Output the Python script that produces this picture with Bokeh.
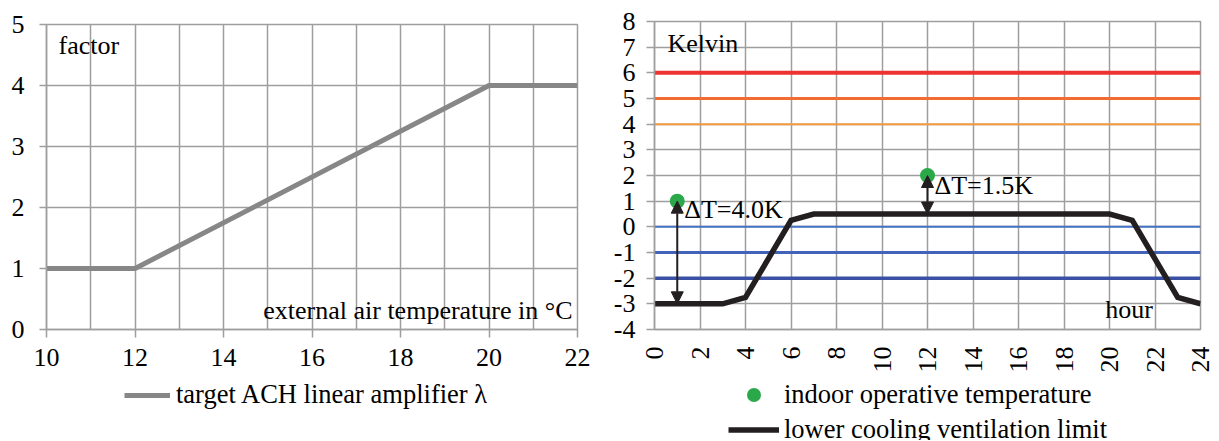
import math
from bokeh.plotting import figure
from bokeh.layouts import row, column
from bokeh.models import (Range1d, FixedTicker, Label, Legend, LegendItem, Arrow,
                          NormalHead, ColumnDataSource)
from bokeh.embed import file_html
from bokeh.resources import INLINE

# ---------------- data ----------------
# left chart: target ACH linear amplifier
amp_temp = [10, 12, 20, 22]
amp_factor = [1, 1, 4, 4]
left_xticks = [10, 12, 14, 16, 18, 20, 22]
left_yticks = [0, 1, 2, 3, 4, 5]

# right chart: hourly limits
hours = [0, 3, 4, 6, 7, 20, 21, 23, 24]
lower_limit = [-3, -3, -2.75, 0.25, 0.5, 0.5, 0.25, -2.75, -3]
indoor_hour = [1, 12]
indoor_temp = [1, 2]
arrow_x = [1, 12]
arrow_top = [1, 2]
arrow_bottom = [-3, 0.5]
delta_labels = ["ΔT=4.0K", "ΔT=1.5K"]
delta_label_y = [0.67, 1.62]
band_levels = [6, 5, 4, 0, -1, -2]
band_colors = ["#EE3232", "#F26B30", "#F49A40", "#4472C4", "#4263B9", "#3A50A5"]
band_widths = [4, 3, 2, 2, 3, 3.5]
right_xticks = list(range(0, 25, 2))
right_yticks = list(range(-4, 9))
right_ylabels = {t: str(t) for t in right_yticks}

FONT = "Liberation Serif"
GRID = "#9E9E9E"
AMP_COLOR = "#878787"
LIM_COLOR = "#231F20"
DOT_COLOR = "#2BA84A"
TXT = "26px"
LEG_TXT = "26.5px"


def style(p, xticks, xgrid, yticks):
    p.xaxis.ticker = FixedTicker(ticks=xticks)
    p.yaxis.ticker = FixedTicker(ticks=yticks)
    p.xgrid.ticker = FixedTicker(ticks=xgrid)
    p.ygrid.ticker = FixedTicker(ticks=yticks)
    for g in (p.xgrid, p.ygrid):
        g.grid_line_color = GRID
        g.grid_line_width = 1.5
    for ax in (p.xaxis, p.yaxis):
        ax.axis_line_color = GRID
        ax.axis_line_width = 1.5
        ax.major_tick_line_color = GRID
        ax.major_tick_line_width = 1.5
        ax.minor_tick_line_color = None
        ax.major_tick_in = 0
        ax.major_label_text_font = FONT
        ax.major_label_text_font_size = TXT
        ax.major_label_text_color = "black"
    p.outline_line_color = GRID
    p.outline_line_width = 1.5
    p.background_fill_color = "white"
    p.border_fill_color = "white"


def legend_fig(width, height):
    # holder for the legend below each chart; its ranges lie far away from the data,
    # so the proxy renderers only feed the legend glyphs
    f = figure(width=width, height=height, output_backend="svg", toolbar_location=None,
               x_range=Range1d(100, 101), y_range=Range1d(100, 101),
               min_border=0, min_border_left=0, min_border_right=0,
               min_border_top=0, min_border_bottom=0)
    f.axis.visible = False
    f.grid.visible = False
    f.outline_line_color = None
    return f


def make_legend(items, x, y, spacing, glyph_width, glyph_height, standoff):
    return Legend(items=items, location=(x, y), padding=0, margin=0, spacing=spacing,
                  glyph_width=glyph_width, glyph_height=glyph_height,
                  label_height=glyph_height, label_standoff=standoff, label_text_font=FONT,
                  label_text_font_size=LEG_TXT, label_text_color="black",
                  border_line_color=None, background_fill_alpha=0)


def label(p, x, y, text, x_offset, align="left"):
    p.add_layout(Label(x=x, y=y, x_offset=x_offset, text=text, text_font=FONT,
                       text_font_size=TXT, text_baseline="middle", text_align=align,
                       text_color="black"))


MAIN_H = 380
LEG_H = 60
W1 = 596
W2 = 622

# ---------------- left chart ----------------
p1 = figure(width=W1, height=MAIN_H, output_backend="svg", toolbar_location=None,
            x_range=Range1d(10, 22), y_range=Range1d(0, 5),
            min_border_left=46, min_border_right=W1 - 46 - 531, min_border_top=24,
            min_border_bottom=MAIN_H - 24 - 305)
style(p1, left_xticks, list(range(10, 23)), left_yticks)
p1.xaxis.major_tick_out = 8
p1.yaxis.major_tick_out = 7
p1.xaxis.major_label_standoff = 11
p1.yaxis.major_label_standoff = 15

p1.line(amp_temp, amp_factor, line_color=AMP_COLOR, line_width=5)

label(p1, 10, 4.66, "factor", 12)
label(p1, 22, 0.31, "external air temperature in °C", -5, "right")

l1 = legend_fig(W1, LEG_H)
k_amp = l1.line(amp_temp, amp_factor, line_color=AMP_COLOR, line_width=5)
l1.add_layout(make_legend([LegendItem(label="target ACH linear amplifier λ", renderers=[k_amp])],
                          124 - 46, LEG_H - 30, 0, 46, 26, 6), "center")

# ---------------- right chart ----------------
p2 = figure(width=W2, height=MAIN_H, output_backend="svg", toolbar_location=None,
            x_range=Range1d(0, 24), y_range=Range1d(-4, 8),
            min_border_left=654 - W1, min_border_right=W2 - (654 - W1) - 546, min_border_top=21,
            min_border_bottom=MAIN_H - 21 - 308)
style(p2, right_xticks, right_xticks, right_yticks)
p2.xaxis.major_tick_out = 0
p2.yaxis.major_tick_out = 8
p2.xaxis.major_label_orientation = math.pi / 2
p2.xaxis.major_label_standoff = 17
p2.yaxis.major_label_standoff = 11
p2.yaxis.major_label_overrides = right_ylabels

band_src = ColumnDataSource(dict(x0=[0] * len(band_levels), x1=[24] * len(band_levels),
                                 y=band_levels, c=band_colors, w=band_widths))
p2.segment(x0="x0", x1="x1", y0="y", y1="y", line_color="c", line_width="w", source=band_src)

p2.line(hours, lower_limit, line_color=LIM_COLOR, line_width=5.5, line_join="miter")

arr_src = ColumnDataSource(dict(x=arrow_x, top=arrow_top, bot=arrow_bottom))
p2.add_layout(Arrow(x_start="x", y_start="bot", x_end="x", y_end="top", source=arr_src,
                    line_color=LIM_COLOR, line_width=2,
                    start=NormalHead(size=12, fill_color=LIM_COLOR, line_color=LIM_COLOR),
                    end=NormalHead(size=12, fill_color=LIM_COLOR, line_color=LIM_COLOR)))

p2.scatter(indoor_hour, indoor_temp, size=15, fill_color=DOT_COLOR, line_color=None)

lab_src = ColumnDataSource(dict(x=arrow_x, y=delta_label_y, t=delta_labels))
p2.text(x="x", y="y", text="t", source=lab_src, x_offset=7, text_font=FONT,
        text_font_size=TXT, text_baseline="middle", text_color="black")

label(p2, 0, 7.13, "Kelvin", 13)
label(p2, 22, -3.22, "hour", -2, "right")

l2 = legend_fig(W2, LEG_H)
k_in = l2.scatter(indoor_hour, indoor_temp, size=15, fill_color=DOT_COLOR, line_color=None)
k_lim = l2.line(hours, lower_limit, line_color=LIM_COLOR, line_width=5.5)
l2.add_layout(make_legend([LegendItem(label="indoor operative temperature", renderers=[k_in]),
                           LegendItem(label="lower cooling ventilation limit", renderers=[k_lim])],
                          728 - 654, -7, 0, 51, 35, 5), "center")

layout = row(column(p1, l1, spacing=0), column(p2, l2, spacing=0), spacing=0)
open("out.html", "w").write(file_html(layout, INLINE))
